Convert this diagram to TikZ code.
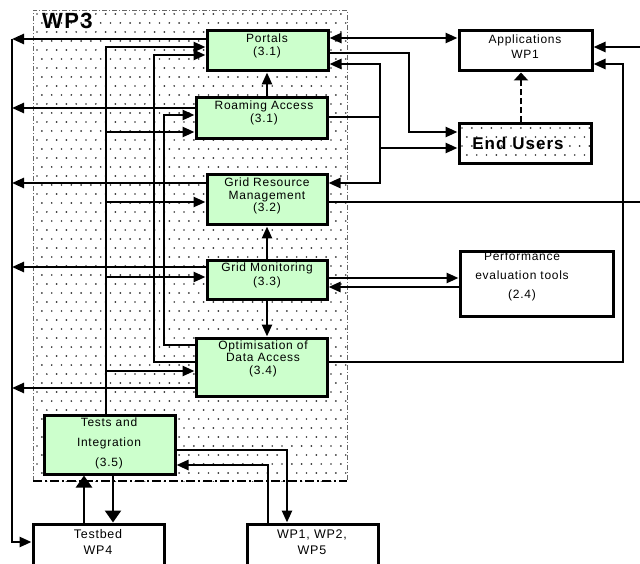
\documentclass[tikz,border=0pt]{standalone}
\usepackage{fontspec}
\setmainfont[LetterSpace=6]{Liberation Sans}
\usetikzlibrary{arrows.meta}
\definecolor{boxgreen}{HTML}{CCFFCC}
\tikzset{
 conn/.style={line width=2.5pt},
 arr/.style={conn,-{Triangle[length=12pt,width=10pt]}},
 darr/.style={conn,{Triangle[length=12pt,width=10pt]}-{Triangle[length=12pt,width=10pt]}},
 warr/.style={conn,-{Triangle[length=12pt,width=16pt]}},
 gbox/.style={draw,line width=3pt,fill=boxgreen,inner sep=0pt},
 wbox/.style={draw,line width=3pt,fill=white,inner sep=0pt},
 obox/.style={draw,line width=3pt,inner sep=0pt},
 lbl/.style={align=center,font=\fontsize{12}{12.5}\selectfont,inner sep=0pt},
 dot/.style={fill=black!80},
}
\begin{document}
\begin{tikzpicture}[x=1pt,y=-1pt]
\clip (0,0) rectangle (640,564);
\fill[white] (0,0) rectangle (640,564);
% dotted WP3 area
\begin{scope}
\clip (33,10) rectangle (347,481);
\foreach \r in {0,...,53}{
 \foreach \c in {0,...,33}{
  \fill[dot] ({37+mod(\r,2)*4.9+9.8*\c},{14+9*\r}) circle[radius=0.95];
 }}
\end{scope}
% dotted End Users
\begin{scope}
\clip (459,124) rectangle (591,164);
\foreach \r in {0,...,5}{
 \foreach \c in {0,...,14}{
  \fill[dot] ({462+mod(\r,2)*4.9+9.8*\c},{128+9*\r}) circle[radius=0.95];
 }}
\end{scope}
\draw[black!60,line width=0.8pt,dash pattern=on 5pt off 2pt on 1pt off 2pt] (33,481) -- (33,10) -- (347,10) -- (347,481);
\draw[line width=2.5pt,dash pattern=on 9pt off 3pt on 2pt off 3pt] (33,481) -- (347,481);

% boxes
\node[gbox,minimum width=121pt,minimum height=40pt] (P) at (267.5,51) {};
\node[gbox,minimum width=131pt,minimum height=41pt] (RA) at (261.5,118.5) {};
\node[gbox,minimum width=120pt,minimum height=50pt] (GRM) at (267,200) {};
\node[gbox,minimum width=120pt,minimum height=38pt] (GM) at (267,280) {};
\node[gbox,minimum width=131pt,minimum height=58pt] (ODA) at (261.5,367) {};
\node[gbox,minimum width=131pt,minimum height=59pt] (TI) at (109.5,444.5) {};
\node[wbox,minimum width=131pt,minimum height=66pt] (TB) at (98.5,557) {};
\node[wbox,minimum width=131pt,minimum height=66pt] (WX) at (312.5,557) {};
\node[wbox,minimum width=133pt,minimum height=40pt] (APP) at (525.5,51) {};
\node[obox,minimum width=132pt,minimum height=40pt] (EU) at (525,144) {};
\node[wbox,minimum width=153pt,minimum height=64pt] (PERF) at (536.5,284) {};

% left collector trunk
\coordinate (Lp) at (12,39);
\coordinate (Lr) at (12,108);
\coordinate (Lg) at (12,183);
\coordinate (Lm) at (12,267);
\coordinate (Lo) at (12,388);
\coordinate (Lb) at (12,542);
\draw[arr] (P.west|-Lp) -- (Lp);
\draw[arr] (RA.west|-Lr) -- (Lr);
\draw[arr] (GRM.west|-Lg) -- (Lg);
\draw[arr] (GM.west|-Lm) -- (Lm);
\draw[arr] (ODA.west|-Lo) -- (Lo);
\draw[arr] (Lp) -- (Lb) -- (TB.west|-Lb);

% tests trunk
\coordinate (T1) at (106,47);
\coordinate (T2) at (106,132);
\coordinate (T3) at (106,202);
\coordinate (T4) at (106,277);
\coordinate (T5) at (106,371);
\draw[arr] (T1|-TI.north) -- (T1) -- (P.west|-T1);
\draw[arr] (T2) -- (RA.west|-T2);
\draw[arr] (T3) -- (GRM.west|-T3);
\draw[arr] (T4) -- (GM.west|-T4);
\draw[arr] (T5) -- (ODA.west|-T5);

% ODA feedback
\coordinate (Q1) at (154,362);
\coordinate (Q2) at (154,55);
\draw[arr] (ODA.west|-Q1) -- (Q1) -- (Q2) -- (P.west|-Q2);
\coordinate (R1) at (164,345);
\coordinate (R2) at (164,115);
\draw[arr] (ODA.west|-R1) -- (R1) -- (R2) -- (RA.west|-R2);

% vertical links
\coordinate (V) at (267,0);
\draw[arr] (V|-RA.north) -- (V|-P.south);
\draw[arr] (V|-GM.north) -- (V|-GRM.south);
\draw[arr] (V|-GM.south) -- (V|-ODA.north);

% tests / testbed / WPs
\coordinate (B1) at (84,0);
\coordinate (B2) at (113,0);
\draw[warr] (B1|-TB.north) -- (B1|-TI.south);
\draw[warr] (B2|-TI.south) -- (B2|-TB.north);
\coordinate (W1) at (287,450);
\coordinate (W2) at (268,465);
\draw[arr] (TI.east|-W1) -- (W1) -- (W1|-WX.north);
\draw[arr] (W2|-WX.north) -- (W2) -- (TI.east|-W2);

% right side
\coordinate (A1) at (400,38);
\draw[darr] (P.east|-A1) -- (APP.west|-A1);
\coordinate (E1) at (409,53);
\coordinate (E2) at (409,132);
\draw[arr] (P.east|-E1) -- (E1) -- (E2) -- (EU.west|-E2);
\coordinate (J1) at (380,64);
\coordinate (J2) at (380,117);
\coordinate (J3) at (380,148);
\coordinate (J4) at (380,183);
\draw[conn] (RA.east|-J2) -- (J2);
\draw[arr] (J2) -- (J1) -- (P.east|-J1);
\draw[arr] (J2) -- (J4) -- (GRM.east|-J4);
\draw[arr] (J3) -- (EU.west|-J3);
\coordinate (D) at (521,0);
\draw[conn,dash pattern=on 6pt off 3pt,-{Triangle[length=8pt,width=14pt]}] (D|-EU.north) -- (D|-APP.south);
\coordinate (X1) at (640,47);
\draw[arr] (X1) -- (APP.east|-X1);
\coordinate (X2) at (640,202);
\draw[conn] (GRM.east|-X2) -- (X2);
\coordinate (K1) at (623,362);
\coordinate (K2) at (623,64);
\draw[arr] (ODA.east|-K1) -- (K1) -- (K2) -- (APP.east|-K2);
\coordinate (M1) at (400,278);
\coordinate (M2) at (400,287);
\draw[arr] (GM.east|-M1) -- (PERF.west|-M1);
\draw[arr] (PERF.west|-M2) -- (GM.east|-M2);

% texts
\node[anchor=west,inner sep=0pt,font=\bfseries\fontsize{22}{22}\selectfont] (wp3) at (42,21) {WP3};
\node[lbl] (Pt) at (267,46) {Portals\\(3.1)};
\node[lbl] (RAt) at (264,113) {Roaming Access\\(3.1)};
\node[lbl] (GRMt) at (267,196) {Grid Resource\\Management\\(3.2)};
\node[lbl,font=\fontsize{12}{14}\selectfont] (GMt) at (267,275) {Grid Monitoring\\(3.3)};
\node[lbl] (ODAt) at (263,358.5) {Optimisation of\\Data Access\\(3.4)};
\node[lbl,font=\fontsize{12}{20}\selectfont] (TIt) at (109,443) {Tests and\\Integration\\(3.5)};
\node[lbl,font=\fontsize{12.5}{16}\selectfont] (TBt) at (98,542) {Testbed\\WP4};
\node[lbl,font=\fontsize{12.5}{16}\selectfont] (WXt) at (312,542) {WP1, WP2,\\WP5};
\node[lbl,font=\fontsize{12}{15}\selectfont] (APPt) at (525,46.5) {Applications\\WP1};
\node[inner sep=0pt,font=\bfseries\fontsize{17}{17}\selectfont] (EUt) at (518,143) {End Users};
\node[lbl,font=\fontsize{12}{19}\selectfont] (PERFt) at (522,276) {Performance\\evaluation tools\\(2.4)};
\end{tikzpicture}
\end{document}
